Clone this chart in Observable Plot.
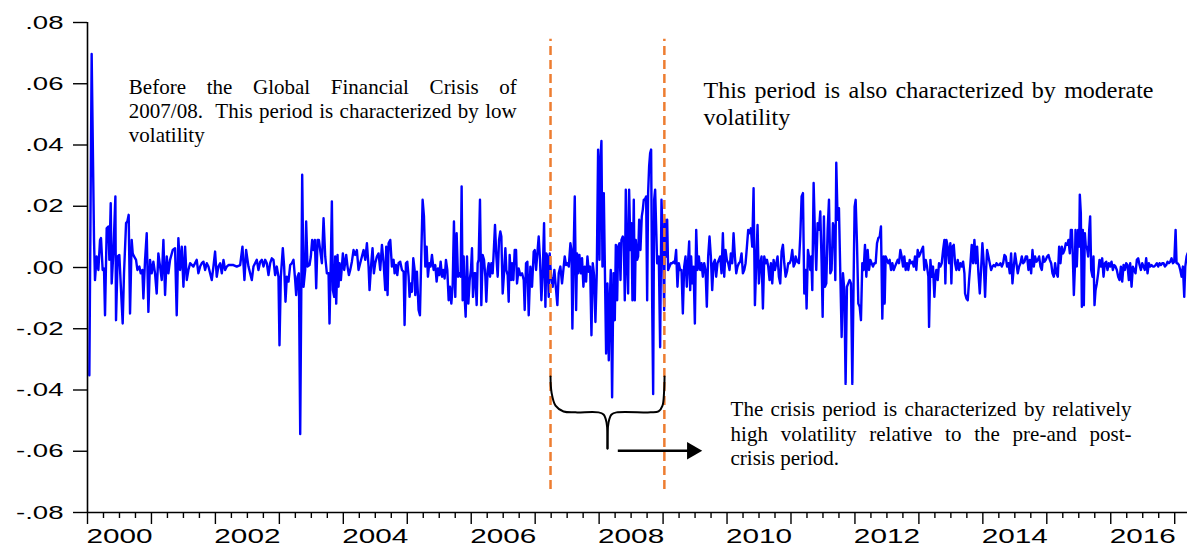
<!DOCTYPE html>
<html>
<head>
<meta charset="utf-8">
<script src="https://cdn.jsdelivr.net/npm/d3@7"></script>
<script src="https://cdn.jsdelivr.net/npm/@observablehq/plot@0.6"></script>
<style>
  html, body { margin: 0; padding: 0; background: #fff; }
  #chart svg { display: block; }
</style>
</head>
<body>
<div id="chart"></div>
<script>
// ---- DATA: weekly returns, [decimal year, return] ----
const preCrisis = [
[2000.029,-.0352],[2000.065,.0697],[2000.102,.0090],[2000.117,-.0041],[2000.143,.0036],[2000.170,-.0008],[2000.196,.0090],[2000.211,.0096],[2000.237,-.0008],[2000.258,-.0003],
[2000.274,-.0156],[2000.300,.0128],[2000.326,.0134],[2000.342,.0025],[2000.363,.0210],[2000.378,-.0052],[2000.404,.0046],[2000.436,.0232],[2000.446,-.0172],[2000.472,.0036],
[2000.498,.0041],[2000.519,-.0052],[2000.550,-.0183],[2000.571,-.0019],[2000.603,.0145],[2000.623,.0150],[2000.644,.0172],[2000.665,-.0150],[2000.691,.0090],[2000.707,.0046],
[2000.728,.0036],[2000.759,.0025],[2000.780,-.0008],[2000.811,.0003],[2000.832,-.0019],[2000.858,-.0008],[2000.874,-.0101],[2000.900,.0025],[2000.926,.0112],[2000.952,-.0145],
[2000.978,.0025],[2001.004,-.0019],[2001.030,.0019],[2001.056,-.0019],[2001.082,-.0085],[2001.108,.0046],[2001.135,.0003],[2001.161,-.0041],[2001.187,.0090],[2001.213,-.0090],
[2001.239,.0036],[2001.265,-.0019],[2001.291,.0025],[2001.333,.0057],[2001.369,.0063],[2001.395,-.0156],[2001.421,.0096],[2001.448,-.0008],[2001.474,.0068],[2001.500,-.0063],
[2001.526,.0068],[2001.552,-.0041],[2001.578,-.0008],[2001.604,.0014],[2001.656,.0003],[2001.708,.0025],[2001.734,-.0019],[2001.761,.0003],[2001.787,.0014],[2001.813,.0019],
[2001.839,-.0008],[2001.865,.0014],[2001.891,.0003],[2001.917,-.0019],[2001.943,-.0041],[2001.969,.0003],[2001.995,.0052],[2002.021,-.0030],[2002.047,.0003],[2002.074,.0014],
[2002.100,-.0019],[2002.126,.0025],[2002.152,-.0008],[2002.178,.0003],[2002.204,.0008],
[2002.230,.0008],[2002.282,.0008],[2002.334,.0003],[2002.387,.0008],[2002.423,.0068],[2002.454,-.0041],[2002.480,.0057],[2002.517,.0003],[2002.543,-.0019],[2002.569,-.0041],
[2002.595,.0003],[2002.647,.0025],[2002.673,-.0008],[2002.700,.0019],[2002.726,.0025],[2002.752,.0003],[2002.778,.0025],[2002.804,.0014],[2002.830,-.0025],[2002.856,.0014],
[2002.882,.0030],[2002.908,.0025],[2002.934,-.0025],[2002.960,.0003],[2002.986,-.0030],[2003.002,-.0254],[2003.023,-.0030],[2003.054,.0063],[2003.075,.0003],[2003.096,-.0112],
[2003.117,-.0030],[2003.143,-.0046],[2003.169,.0008],[2003.195,.0014],[2003.221,.0025],[2003.247,-.0041],[2003.263,-.0090],[2003.284,-.0030],[2003.305,-.0019],[2003.326,-.0544],
[2003.357,.0303],[2003.378,-.0063],[2003.404,-.0008],[2003.419,.0150],[2003.440,.0003],[2003.472,.0008],[2003.492,.0036],[2003.513,.0090],[2003.534,.0057],[2003.555,.0090],
[2003.576,-.0068],[2003.597,.0090],[2003.618,.0090],[2003.638,.0057],[2003.665,.0014],[2003.691,.0161],[2003.717,.0036],[2003.743,-.0019],[2003.769,-.0019],[2003.784,-.0183],
[2003.806,.0036],[2003.821,.0216],[2003.837,-.0074],[2003.858,-.0096],[2003.873,.0036],[2003.889,-.0118],[2003.910,.0041],[2003.925,-.0063],[2003.941,.0014],[2003.962,-.0041],
[2003.993,.0046],[2004.014,-.0008],[2004.045,.0041],[2004.066,.0003],[2004.087,-.0025],[2004.108,-.0008],[2004.134,.0019],[2004.160,.0057],[2004.186,.0041],[2004.212,.0057],
[2004.238,-.0008],[2004.264,.0014],[2004.291,.0036],[2004.317,.0057],[2004.343,.0025],[2004.369,.0079],[2004.395,.0003],[2004.410,-.0074],
[2004.437,.0014],[2004.457,.0063],[2004.478,-.0019],[2004.499,.0014],[2004.525,.0036],[2004.551,.0046],[2004.577,-.0008],[2004.604,.0074],[2004.630,.0014],[2004.656,-.0074],
[2004.671,.0068],[2004.692,-.0090],[2004.708,.0079],[2004.734,.0090],[2004.760,.0003],[2004.786,.0025],[2004.802,-.0019],[2004.823,.0008],[2004.844,-.0025],[2004.864,.0014],
[2004.890,.0019],[2004.917,-.0008],[2004.943,-.0014],[2004.958,-.0188],[2004.979,.0014],[2005.000,.0019],[2005.021,-.0030],[2005.036,-.0096],[2005.057,-.0052],[2005.073,-.0079],
[2005.094,.0030],[2005.115,-.0008],[2005.125,-.0090],[2005.151,-.0014],[2005.177,-.0139],[2005.198,-.0156],[2005.219,.0036],[2005.240,.0221],[2005.261,.0167],[2005.282,.0003],
[2005.303,.0068],[2005.323,-.0030],[2005.344,.0014],[2005.365,.0003],[2005.386,.0041],[2005.412,-.0008],[2005.438,.0008],[2005.459,-.0046],[2005.480,-.0003],[2005.501,-.0025],
[2005.522,.0019],[2005.543,-.0030],[2005.563,-.0008],[2005.584,-.0036],[2005.605,.0025],[2005.626,-.0008],[2005.647,-.0107],[2005.668,-.0063],[2005.689,-.0118],[2005.709,-.0063],
[2005.730,.0150],[2005.751,-.0096],[2005.772,.0112],[2005.793,-.0030],[2005.814,-.0019],[2005.835,-.0030],[2005.850,.0265],[2005.866,-.0107],[2005.882,.0036],[2005.897,-.0096],
[2005.913,-.0161],[2005.934,.0036],[2005.955,-.0118],[2005.976,-.0041],[2005.996,-.0008],[2006.012,.0063],[2006.028,-.0096],[2006.049,-.0019],[2006.064,-.0019],[2006.085,-.0123],
[2006.101,.0014],[2006.116,.0025],[2006.137,.0221],[2006.158,-.0123],[2006.179,.0041],[2006.200,.0025],[2006.221,-.0030],[2006.236,-.0112],[2006.257,-.0008],[2006.273,.0014],
[2006.294,-.0030],[2006.315,.0014],[2006.335,-.0019],[2006.356,.0068],[2006.372,.0139],[2006.393,.0036],[2006.414,-.0030],[2006.435,.0090],[2006.455,.0118],[2006.471,.0101],
[2006.492,-.0085],[2006.513,-.0019],[2006.534,.0063],[2006.549,-.0008],[2006.570,-.0025],[2006.586,-.0112],[2006.601,.0041],[2006.622,-.0041],[2006.638,.0014],[2006.659,-.0041],
[2006.680,.0057],[2006.701,.0057],[2006.716,-.0052],[2006.742,-.0003],[2006.768,-.0025],[2006.795,-.0019],[2006.821,-.0041],[2006.836,-.0139],[2006.857,.0014],[2006.878,.0019],
[2006.899,-.0156],[2006.925,.0003],[2006.951,-.0063],[2006.977,.0052],[2006.993,.0057],[2007.014,-.0008],[2007.034,.0046],[2007.055,.0101],[2007.076,.0025],[2007.097,-.0107],
[2007.118,-.0019],[2007.139,.0145],[2007.160,-.0128],[2007.175,.0046],[2007.191,.0036],[2007.212,-.0096],[2007.227,.0046]
];

const crisis = [
[2007.248,-.0030],[2007.274,-.0063],[2007.300,-.0008],[2007.327,-.0074],[2007.347,-.0123],[2007.368,-.0019],[2007.394,.0003],[2007.420,-.0052],[2007.446,.0003],[2007.462,.0036],
[2007.483,.0008],[2007.504,.0014],[2007.525,.0003],[2007.551,.0079],[2007.567,.0057],[2007.582,-.0199],[2007.603,.0068],[2007.619,.0232],[2007.640,-.0139],[2007.655,.0046],
[2007.671,-.0019],[2007.692,.0041],[2007.713,-.0019],[2007.733,.0030],[2007.754,-.0063],[2007.775,.0003],[2007.796,-.0046],[2007.817,.0036],[2007.838,-.0014],[2007.859,.0003],
[2007.880,-.0221],[2007.900,.0014],[2007.921,-.0025],[2007.942,-.0178],[2007.963,-.0019],[2007.984,.0385],[2008.005,.0025],[2008.020,.0352],[2008.036,.0413],[2008.052,.0003],
[2008.073,.0243],[2008.088,.0025],[2008.109,-.0281],[2008.130,-.0052],[2008.151,-.0303],[2008.167,-.0107],[2008.182,-.0008],[2008.203,-.0424],[2008.224,-.0019],[2008.245,-.0172],
[2008.261,.0074],[2008.282,-.0107],[2008.297,.0068],[2008.318,.0079],[2008.334,-.0041],[2008.349,.0090],[2008.370,.0101],[2008.386,.0090],[2008.401,-.0107],[2008.417,.0254],
[2008.438,.0003],[2008.453,-.0085],[2008.469,.0254],[2008.490,.0057],[2008.505,.0145],[2008.521,-.0107],[2008.542,.0221],[2008.558,-.0107],[2008.573,.0090],[2008.594,.0025],
[2008.610,.0036],[2008.626,.0156],[2008.646,.0057],[2008.667,.0167],[2008.683,.0189],[2008.698,.0221],[2008.714,.0221],[2008.735,.0232],[2008.751,-.0107],[2008.766,.0243],
[2008.782,.0331],[2008.798,.0374],[2008.813,.0385],[2008.829,-.0107],[2008.845,-.0413],[2008.860,.0221],[2008.876,.0254],[2008.907,.0014],[2008.933,.0036],[2008.954,-.0260],
[2008.975,.0221],[2008.996,.0090],[2009.017,-.0139]
];

const postCrisis = [
[2009.027,.0156],[2009.048,.0036],[2009.064,.0156],[2009.079,-.0008],[2009.100,.0003],[2009.121,.0014],[2009.142,.0014],[2009.163,.0019],[2009.183,.0014],[2009.204,.0057],
[2009.225,-.0063],[2009.246,.0014],[2009.267,-.0008],[2009.288,-.0008],[2009.309,-.0150],[2009.330,.0003],[2009.351,.0036],[2009.371,-.0063],[2009.392,.0025],[2009.408,.0085],
[2009.424,-.0074],[2009.439,.0036],[2009.455,-.0052],[2009.476,.0003],[2009.497,-.0183],[2009.518,.0123],[2009.538,-.0008],[2009.559,.0036],[2009.580,-.0008],[2009.601,.0014],
[2009.622,-.0030],[2009.643,.0014],[2009.664,-.0008],[2009.684,-.0128],[2009.705,.0036],[2009.726,.0101],[2009.747,.0036],[2009.768,-.0074],[2009.789,.0014],[2009.810,.0025],
[2009.830,-.0030],[2009.851,.0014],[2009.872,.0025],[2009.893,.0036],[2009.914,-.0019],[2009.935,.0112],[2009.956,-.0030],[2009.977,.0057],[2009.997,.0025],[2010.018,.0014],
[2010.039,-.0008],[2010.060,.0046],[2010.081,.0014],[2010.102,.0112],[2010.123,.0036],[2010.144,-.0019],[2010.164,.0003],[2010.185,.0014],[2010.206,.0019],[2010.227,.0046],
[2010.248,-.0019],[2010.269,-.0008],[2010.290,.0014],[2010.311,.0068],[2010.331,.0123],[2010.352,.0112],[2010.373,.0128],[2010.394,.0068],[2010.415,.0259],[2010.436,-.0123],
[2010.457,.0014],[2010.477,.0139],[2010.498,-.0052],[2010.519,.0014],[2010.540,.0036],[2010.561,-.0134],[2010.582,.0036],[2010.603,.0014],[2010.624,.0025],[2010.644,.0003],
[2010.665,-.0041],[2010.686,.0014],[2010.707,-.0052],[2010.728,.0025],[2010.749,-.0008],[2010.770,.0014],[2010.790,.0036],[2010.811,-.0030],[2010.832,-.0052],[2010.853,.0052],
[2010.874,.0074],[2010.895,.0014],[2010.916,-.0030],[2010.937,-.0014],[2010.957,.0014],[2010.978,.0014],[2010.999,.0025],[2011.020,.0057],[2011.041,.0003],[2011.062,.0014],
[2011.072,.0036],[2011.098,.0019],[2011.124,.0014],[2011.145,.0101],[2011.166,.0232],[2011.187,.0243],[2011.208,-.0085],[2011.229,-.0008],[2011.244,-.0134],[2011.265,.0057],
[2011.281,.0036],[2011.301,-.0008],[2011.317,.0036],[2011.333,-.0074],[2011.354,.0276],[2011.374,.0112],[2011.395,-.0008],[2011.416,.0145],[2011.437,.0123],[2011.458,.0183],
[2011.479,.0014],[2011.495,-.0161],[2011.515,.0167],[2011.531,-.0063],[2011.552,-.0052],[2011.573,.0123],[2011.594,.0221],[2011.615,-.0019],[2011.635,-.0008],[2011.656,.0145],
[2011.677,.0123],[2011.693,-.0041],[2011.708,.0342],[2011.729,.0156],[2011.750,.0194],[2011.771,-.0019],[2011.792,-.0227],[2011.813,-.0019],[2011.834,-.0074],[2011.854,-.0380],
[2011.875,-.0063],[2011.896,-.0052],[2011.917,-.0041],[2011.938,-.0052],[2011.959,-.0380],[2011.980,-.0030],[2011.995,.0199],[2012.011,.0221],[2012.032,.0079],[2012.053,-.0118],
[2012.074,-.0128],[2012.094,-.0172],[2012.115,.0014],[2012.136,-.0008],[2012.157,.0074],[2012.178,-.0030],[2012.199,.0057],[2012.220,-.0008],[2012.241,.0025],[2012.261,.0014],
[2012.282,.0003],[2012.303,.0014],[2012.324,.0014],[2012.345,.0079],[2012.366,.0096],[2012.387,.0101],[2012.407,.0134],[2012.428,-.0167],[2012.449,.0036],[2012.465,-.0118],
[2012.480,.0036],[2012.501,.0025],[2012.522,.0014],[2012.543,.0025],[2012.564,-.0008],[2012.585,.0014],[2012.606,-.0008],[2012.626,.0003],[2012.647,.0014],[2012.668,.0025],
[2012.689,.0014],[2012.710,.0057],[2012.731,.0036],[2012.752,.0003],[2012.772,.0036],[2012.793,-.0008],[2012.814,.0014],[2012.835,-.0008],[2012.856,.0025],[2012.877,.0014],
[2012.898,.0019],[2012.919,.0003],[2012.939,.0036],[2012.960,-.0008],[2012.981,.0057],[2013.002,.0036],[2013.023,.0046],[2013.044,.0057],[2013.065,.0068],[2013.085,-.0008],
[2013.106,.0025],[2013.127,.0003],[2013.148,-.0030],[2013.159,-.0194],[2013.180,.0025],[2013.200,-.0030],[2013.221,.0003],[2013.242,-.0096],[2013.258,-.0030],
[2013.273,-.0008],[2013.294,-.0041],[2013.315,.0014],[2013.336,.0003],[2013.357,.0014],[2013.378,.0057],[2013.399,.0090],[2013.414,-.0052],[2013.430,.0090],[2013.451,.0068],
[2013.472,.0014],[2013.492,.0079],[2013.508,-.0052],[2013.524,.0068],[2013.545,.0074],[2013.566,.0014],[2013.586,-.0008],[2013.607,.0025],[2013.628,-.0008],[2013.649,.0014],
[2013.670,.0003],[2013.691,.0019],[2013.712,-.0019],[2013.722,-.0085],[2013.743,-.0101],[2013.764,-.0107],[2013.785,-.0041],[2013.806,.0014],[2013.826,.0074],[2013.847,.0014],
[2013.868,.0090],[2013.889,.0014],[2013.910,.0068],[2013.931,-.0019],[2013.952,-.0085],[2013.972,-.0008],[2013.993,.0079],[2014.014,.0014],[2014.035,-.0096],[2014.051,-.0008],
[2014.066,.0057],[2014.087,.0036],[2014.108,.0014],[2014.129,-.0008],[2014.150,.0003],[2014.171,.0008],[2014.192,.0003],[2014.213,.0014],[2014.233,.0008],[2014.254,.0008],
[2014.275,.0014],[2014.296,.0003],[2014.317,.0014],[2014.338,.0041],[2014.358,.0036],[2014.379,.0003],[2014.400,.0014],[2014.421,-.0019],[2014.442,.0046],[2014.463,-.0052],
[2014.484,.0003],[2014.504,.0046],[2014.525,.0014],[2014.546,-.0019],[2014.567,.0003],[2014.588,.0014],[2014.609,.0036],[2014.630,.0014],[2014.651,.0019],[2014.671,.0036],
[2014.692,.0036],[2014.713,-.0008],[2014.734,.0025],[2014.755,-.0019],[2014.776,.0057],[2014.797,.0003],[2014.817,.0036],[2014.838,.0019],[2014.859,.0025],[2014.880,.0036],
[2014.901,.0003],[2014.922,-.0008],[2014.943,.0036],[2014.963,.0019],[2014.984,.0025],[2015.005,.0036],[2015.026,.0041],[2015.047,.0025],[2015.068,.0014],[2015.089,-.0019],
[2015.110,-.0030],[2015.130,.0014],[2015.151,-.0019],[2015.172,-.0030],[2015.193,.0068],[2015.214,.0014],[2015.235,.0068],[2015.256,.0046],[2015.277,.0057],[2015.297,.0079],
[2015.318,.0074],[2015.339,.0090],[2015.360,.0046],[2015.376,.0123],[2015.392,.0123],[2015.407,.0036],[2015.423,-.0090],[2015.438,-.0008],[2015.449,.0123],
[2015.469,.0003],[2015.490,.0123],[2015.506,.0068],[2015.516,.0238],[2015.532,.0178],[2015.548,-.0128],[2015.563,.0123],[2015.579,-.0123],[2015.595,.0112],[2015.610,.0068],
[2015.626,.0068],[2015.647,.0036],[2015.663,.0123],[2015.678,.0167],[2015.694,-.0008],[2015.715,-.0030],[2015.730,.0036],[2015.746,-.0123],[2015.762,-.0074],[2015.782,-.0052],
[2015.803,-.0019],[2015.824,.0025],[2015.845,.0003],[2015.866,.0030],[2015.887,-.0030],[2015.908,.0014],[2015.929,.0019],[2015.949,-.0008],[2015.970,.0014],[2015.991,.0003],
[2016.012,.0019],[2016.033,-.0008],[2016.054,.0008],[2016.075,.0003],[2016.095,-.0008],[2016.116,-.0030],[2016.137,-.0041],[2016.158,.0003],[2016.179,-.0046],[2016.200,.0008],
[2016.221,-.0008],[2016.241,.0014],[2016.262,.0008],[2016.283,-.0041],[2016.304,.0014],[2016.325,-.0063],[2016.346,.0003],[2016.367,-.0008],[2016.387,-.0019],[2016.408,.0025],
[2016.429,.0030],[2016.450,.0008],[2016.471,-.0008],[2016.492,.0014],[2016.513,.0003],[2016.533,-.0008],[2016.554,.0030],[2016.575,-.0019],[2016.596,.0014],[2016.617,.0003],
[2016.638,.0008],[2016.659,.0003],[2016.680,.0003],[2016.701,.0008],[2016.721,.0014],[2016.742,.0003],[2016.763,.0014],[2016.784,.0008],[2016.805,.0014],[2016.826,.0014],
[2016.847,.0003],[2016.868,.0008],[2016.888,.0019],[2016.909,.0014],[2016.930,.0019],[2016.951,.0030],[2016.972,.0014],[2016.993,.0019],[2017.014,.0123],[2017.029,.0014],
[2017.045,.0014],[2017.066,.0008],[2017.087,-.0008],[2017.108,-.0030],[2017.128,.0003],[2017.149,-.0096],[2017.165,.0003],[2017.186,.0036],[2017.201,.0046]
];

const yTicks = [-0.08, -0.06, -0.04, -0.02, 0, 0.02, 0.04, 0.06, 0.08];
const xTickLabels = ["2000", "2002", "2004", "2006", "2008", "2010", "2012", "2014", "2016"];
const crisisBounds = [2007.24, 2009.02];

const noteBefore = ["Before the Global Financial Crisis of", "2007/08.  This period is characterized by low", "volatility"];
const noteAfter = ["This period is also characterized by moderate", "volatility"];
const noteCrisis = ["The crisis period is characterized by relatively", "high volatility relative to the pre-and post-", "crisis period."];

// curly brace under the crisis window (data units)
const braceX = [2007.240, 2007.256, 2007.318, 2007.443, 2007.631, 2007.991, 2008.069, 2008.116, 2008.131,
                2008.131, 2008.147, 2008.194, 2008.272, 2008.804, 2008.929, 2008.991, 2009.015, 2009.023];
const braceY = [-0.0356, -0.0408, -0.0451, -0.0470, -0.0473, -0.0473, -0.0480, -0.0506, -0.0591,
                -0.0591, -0.0506, -0.0480, -0.0473, -0.0473, -0.0470, -0.0451, -0.0408, -0.0356];
const braceSide = ["L","L","L","L","L","L","L","L","L","R","R","R","R","R","R","R","R","R"];

// ---- CHART ----
const series = [...preCrisis, ...crisis, ...postCrisis];
const fmtY = d => (d < 0 ? "-" : "") + Math.abs(d).toFixed(2).replace(/^0/, "");
const yearTicks = d3.range(2000, 2018);
const quarterTicks = d3.range(2000, 2017.2, 0.25).filter(q => Math.abs(q - Math.round(q)) > 0.01);
const labelPos = xTickLabels.map(s => +s + 0.5);
const serif = "'Liberation Serif', 'Times New Roman', serif";
const brace = braceX.map((x, i) => ({x, y: braceY[i], side: braceSide[i]}));

const chart = Plot.plot({
  width: 1187,
  height: 549,
  marginLeft: 87,
  marginRight: 0,
  marginTop: 22,
  marginBottom: 37,
  x: {domain: [2000, 2017.2]},
  y: {domain: [-0.08, 0.08]},
  style: {fontFamily: "'Liberation Sans', Arial, sans-serif", color: "black", background: "white", overflow: "visible"},
  marks: [
    Plot.line(series, {x: d => d[0], y: d => d[1], stroke: "#0000ff", strokeWidth: 2.4}),
    Plot.ruleX(crisisBounds, {y1: -0.0725, y2: 0.0745, stroke: "#ED7D31", strokeWidth: 2.5, strokeDasharray: "9,5"}),
    Plot.line(brace, {x: "x", y: "y", z: "side", stroke: "black", strokeWidth: 2, curve: "catmull-rom"}),
    Plot.link([0], {x1: () => 2008.292, x2: () => 2009.40, y1: () => -0.0598, y2: () => -0.0598, stroke: "black", strokeWidth: 2.5}),
    Plot.dot([0], {x: () => 2009.454, y: () => -0.0598, symbol: "triangle", r: 6.5, rotate: 90, fill: "black", stroke: "none"}),
    Plot.text(noteBefore, {x: () => 2000.646, y: (d, i) => 0.0565 - i * 0.00784, text: d => d, textAnchor: "start", lineAnchor: "bottom", fontSize: 21, fontFamily: serif, fill: "black"}),
    Plot.text(noteAfter, {x: () => 2009.632, y: (d, i) => 0.0555 - i * 0.0091, text: d => d, textAnchor: "start", lineAnchor: "bottom", fontSize: 24, fontFamily: serif, fill: "black"}),
    Plot.text(noteCrisis, {x: () => 2010.055, y: (d, i) => -0.04865 - i * 0.00784, text: d => d, textAnchor: "start", lineAnchor: "bottom", fontSize: 21, fontFamily: serif, fill: "black"}),
    Plot.ruleX([2000], {y1: -0.08, y2: 0.08, stroke: "black", strokeWidth: 1.6}),
    Plot.ruleY([-0.08], {stroke: "black", strokeWidth: 1.6}),
    Plot.axisY({ticks: yTicks, tickFormat: fmtY, tickSize: 14, tickPadding: 10, fontSize: 19, label: null, strokeWidth: 1.4}),
    Plot.axisX({ticks: yearTicks, tickSize: 12, tickFormat: () => "", label: null, strokeWidth: 1.4}),
    Plot.axisX({ticks: quarterTicks, tickSize: 6, tickFormat: () => "", label: null, strokeWidth: 1.4}),
    Plot.axisX({ticks: labelPos, tickSize: 0, tickPadding: 16, tickFormat: d => String(Math.floor(d)), fontSize: 20.5, label: null})
  ]
});

document.getElementById("chart").append(chart);

// widen the axis numerals like the original EViews export
chart.querySelectorAll('g[aria-label="y-axis tick label"] text, g[aria-label="x-axis tick label"] text').forEach(t => {
  const w = t.getComputedTextLength();
  if (w > 0) {
    t.setAttribute("textLength", (w * 1.45).toFixed(1));
    t.setAttribute("lengthAdjust", "spacingAndGlyphs");
  }
});

// justify the annotation lines that are set flush on both sides
const justifyTo = new Map([
  [noteBefore[0], 388], [noteBefore[1], 388],
  [noteAfter[0], 450],
  [noteCrisis[0], 401], [noteCrisis[1], 401]
]);
chart.querySelectorAll("text").forEach(t => {
  const s = t.textContent;
  if ([...noteBefore, ...noteAfter, ...noteCrisis].includes(s)) t.style.whiteSpace = "pre";
  if (justifyTo.has(s)) {
    const n = (s.match(/ /g) || []).length;
    const w = t.getComputedTextLength();
    if (n > 0) t.style.wordSpacing = ((justifyTo.get(s) - w) / n).toFixed(2) + "px";
  }
});
</script>
</body>
</html>
